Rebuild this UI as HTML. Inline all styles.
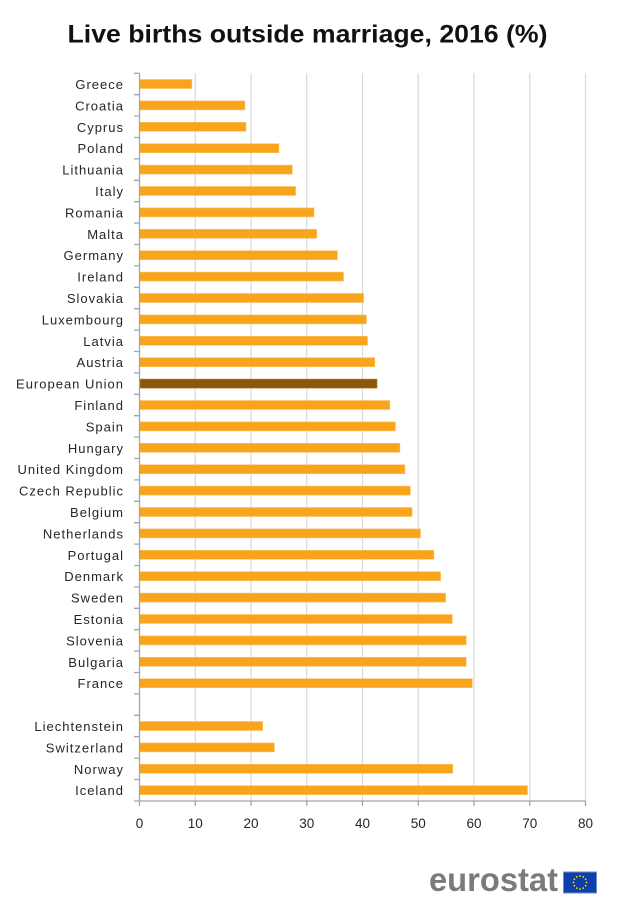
<!DOCTYPE html>
<html><head><meta charset="utf-8"><style>
html,body{margin:0;padding:0;background:#fff;}
svg{display:block;}
text{font-family:"Liberation Sans",sans-serif;}
.lb{font-size:13px;fill:#262626;letter-spacing:1px;text-anchor:end;}
.tk{font-size:13.5px;fill:#262626;text-anchor:middle;}
</style></head><body>
<svg width="620" height="919" viewBox="0 0 620 919" xmlns="http://www.w3.org/2000/svg">
<rect width="620" height="919" fill="#fff"/>
<text x="307.5" y="42.3" font-size="25" font-weight="bold" fill="#111" text-anchor="middle" textLength="480" lengthAdjust="spacingAndGlyphs">Live births outside marriage, 2016 (%)</text>
<g stroke="#d9d9d9" stroke-width="1.2">
<line x1="195.25" y1="73.3" x2="195.25" y2="801"/>
<line x1="251" y1="73.3" x2="251" y2="801"/>
<line x1="306.75" y1="73.3" x2="306.75" y2="801"/>
<line x1="362.5" y1="73.3" x2="362.5" y2="801"/>
<line x1="418.25" y1="73.3" x2="418.25" y2="801"/>
<line x1="474" y1="73.3" x2="474" y2="801"/>
<line x1="529.75" y1="73.3" x2="529.75" y2="801"/>
<line x1="585.5" y1="73.3" x2="585.5" y2="801"/>
</g>
<g fill="#f9a51b" stroke="#fbc264" stroke-width="0.6">
<rect x="139.5" y="79.5" width="52.4" height="9"/>
<rect x="139.5" y="100.9" width="105.4" height="9"/>
<rect x="139.5" y="122.3" width="106.5" height="9"/>
<rect x="139.5" y="143.7" width="139.4" height="9"/>
<rect x="139.5" y="165.1" width="152.8" height="9"/>
<rect x="139.5" y="186.5" width="156.1" height="9"/>
<rect x="139.5" y="207.9" width="174.5" height="9"/>
<rect x="139.5" y="229.3" width="177.3" height="9"/>
<rect x="139.5" y="250.7" width="197.9" height="9"/>
<rect x="139.5" y="272.1" width="204.0" height="9"/>
<rect x="139.5" y="293.5" width="224.1" height="9"/>
<rect x="139.5" y="314.9" width="226.9" height="9"/>
<rect x="139.5" y="336.3" width="228.0" height="9"/>
<rect x="139.5" y="357.7" width="235.3" height="9"/>
<rect x="139.5" y="400.5" width="250.3" height="9"/>
<rect x="139.5" y="421.9" width="255.9" height="9"/>
<rect x="139.5" y="443.3" width="260.4" height="9"/>
<rect x="139.5" y="464.7" width="265.4" height="9"/>
<rect x="139.5" y="486.1" width="270.9" height="9"/>
<rect x="139.5" y="507.5" width="272.6" height="9"/>
<rect x="139.5" y="528.9" width="281.0" height="9"/>
<rect x="139.5" y="550.3" width="294.4" height="9"/>
<rect x="139.5" y="571.7" width="301.1" height="9"/>
<rect x="139.5" y="593.1" width="306.1" height="9"/>
<rect x="139.5" y="614.5" width="312.8" height="9"/>
<rect x="139.5" y="635.9" width="326.7" height="9"/>
<rect x="139.5" y="657.3" width="326.7" height="9"/>
<rect x="139.5" y="678.7" width="332.8" height="9"/>
<rect x="139.5" y="721.5" width="123.2" height="9"/>
<rect x="139.5" y="742.9" width="134.9" height="9"/>
<rect x="139.5" y="764.3" width="313.3" height="9"/>
<rect x="139.5" y="785.7" width="388.0" height="9"/>
</g>
<rect x="139.5" y="379.1" width="237.5" height="9" fill="#8a5806" stroke="#a87a3a" stroke-width="0.6"/>
<g stroke="#a6a6a6" stroke-width="1.3">
<line x1="139.5" y1="73.3" x2="139.5" y2="801"/>
<line x1="139.5" y1="801" x2="585.5" y2="801"/>
<path d="M134 73.3H139.5M134 94.7H139.5M134 116.1H139.5M134 137.5H139.5M134 158.9H139.5M134 180.3H139.5M134 201.7H139.5M134 223.1H139.5M134 244.5H139.5M134 265.9H139.5M134 287.3H139.5M134 308.7H139.5M134 330.1H139.5M134 351.5H139.5M134 372.9H139.5M134 394.3H139.5M134 415.7H139.5M134 437.1H139.5M134 458.5H139.5M134 479.9H139.5M134 501.3H139.5M134 522.7H139.5M134 544.1H139.5M134 565.5H139.5M134 586.9H139.5M134 608.3H139.5M134 629.7H139.5M134 651.1H139.5M134 672.5H139.5M134 693.9H139.5M134 715.3H139.5M134 736.7H139.5M134 758.1H139.5M134 779.5H139.5M134 801H139.5"/>
<path d="M139.5 801V806M195.25 801V806M251 801V806M306.75 801V806M362.5 801V806M418.25 801V806M474 801V806M529.75 801V806M585.5 801V806"/>
</g>
<g class="lb">
<text x="124" y="89.0">Greece</text>
<text x="124" y="110.4">Croatia</text>
<text x="124" y="131.8">Cyprus</text>
<text x="124" y="153.2">Poland</text>
<text x="124" y="174.6">Lithuania</text>
<text x="124" y="196.0">Italy</text>
<text x="124" y="217.4">Romania</text>
<text x="124" y="238.8">Malta</text>
<text x="124" y="260.2">Germany</text>
<text x="124" y="281.6">Ireland</text>
<text x="124" y="303.0">Slovakia</text>
<text x="124" y="324.4">Luxembourg</text>
<text x="124" y="345.8">Latvia</text>
<text x="124" y="367.2">Austria</text>
<text x="124" y="388.6">European Union</text>
<text x="124" y="410.0">Finland</text>
<text x="124" y="431.4">Spain</text>
<text x="124" y="452.8">Hungary</text>
<text x="124" y="474.2">United Kingdom</text>
<text x="124" y="495.6">Czech Republic</text>
<text x="124" y="517.0">Belgium</text>
<text x="124" y="538.4">Netherlands</text>
<text x="124" y="559.8">Portugal</text>
<text x="124" y="581.2">Denmark</text>
<text x="124" y="602.6">Sweden</text>
<text x="124" y="624.0">Estonia</text>
<text x="124" y="645.4">Slovenia</text>
<text x="124" y="666.8">Bulgaria</text>
<text x="124" y="688.2">France</text>
<text x="124" y="731.0">Liechtenstein</text>
<text x="124" y="752.4">Switzerland</text>
<text x="124" y="773.8">Norway</text>
<text x="124" y="795.2">Iceland</text>
</g>
<g class="tk">
<text x="139.5" y="828">0</text>
<text x="195.25" y="828">10</text>
<text x="251" y="828">20</text>
<text x="306.75" y="828">30</text>
<text x="362.5" y="828">40</text>
<text x="418.25" y="828">50</text>
<text x="474" y="828">60</text>
<text x="529.75" y="828">70</text>
<text x="585.5" y="828">80</text>
</g>
<text x="429" y="891" font-size="33" font-weight="bold" fill="#7b7b7b" textLength="129" lengthAdjust="spacingAndGlyphs">eurostat</text>
<rect x="563.5" y="872" width="33" height="21" fill="#0f3fa8" stroke="#6d8ccf" stroke-width="1"/>
<g fill="#ffdd00">
<circle cx="580" cy="876" r="0.9"/>
<circle cx="583.25" cy="876.87" r="0.9"/>
<circle cx="585.63" cy="879.25" r="0.9"/>
<circle cx="586.5" cy="882.5" r="0.9"/>
<circle cx="585.63" cy="885.75" r="0.9"/>
<circle cx="583.25" cy="888.13" r="0.9"/>
<circle cx="580" cy="889" r="0.9"/>
<circle cx="576.75" cy="888.13" r="0.9"/>
<circle cx="574.37" cy="885.75" r="0.9"/>
<circle cx="573.5" cy="882.5" r="0.9"/>
<circle cx="574.37" cy="879.25" r="0.9"/>
<circle cx="576.75" cy="876.87" r="0.9"/>
</g>
</svg>
</body></html>
